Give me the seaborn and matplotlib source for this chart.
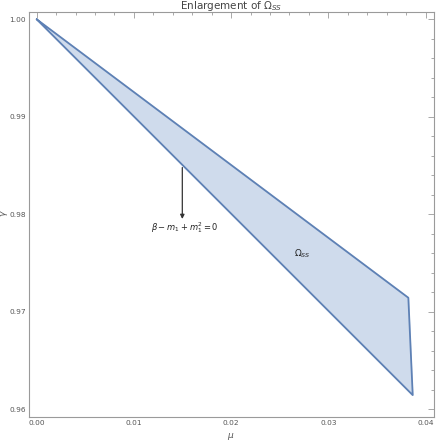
import matplotlib
matplotlib.use("Agg")
import matplotlib.pyplot as plt
import seaborn as sns
import numpy as np
import pandas as pd

# vertices of the Omega_SS region (mu, gamma)
mu_vertices = [0.0, 0.03823, 0.03868, 0.0]
gamma_vertices = [1.0, 0.97142, 0.96143, 1.0]

# arrow marking beta - m1 + m1^2 = 0
arrow_mu = 0.01498
arrow_start = 0.98507
arrow_end = 0.97922

region_label_pos = (0.02737, 0.97598)

x_ticks = [0.00, 0.01, 0.02, 0.03, 0.04]
y_ticks = [0.96, 0.97, 0.98, 0.99, 1.00]

sns.set_style("white")
plt.rcParams['font.family'] = ['DejaVu Sans']

edge_col = "#5E81B5"
fill_col = "#CFDBEC"
frame_col = "#9a9a9a"
label_col = "#555555"

fig = plt.figure(figsize=(4.36, 4.41), dpi=100)
ax = fig.add_axes([0.0665, 0.0537, 0.9296, 0.9198])

df = pd.DataFrame({"mu": mu_vertices, "gamma": gamma_vertices})
ax.fill(df["mu"], df["gamma"], color=fill_col, zorder=1)
sns.lineplot(data=df, x="mu", y="gamma", sort=False, estimator=None,
             color=edge_col, lw=1.3, ax=ax, zorder=2)

# arrow + label
ax.annotate("", xy=(arrow_mu, arrow_end), xytext=(arrow_mu, arrow_start),
            arrowprops=dict(arrowstyle="-|>", color="#333333", lw=0.9, mutation_scale=6))
ax.text(arrow_mu + 0.0003, arrow_end - 0.0006, r"$\beta - m_1 + m_1^2 = 0$",
        ha="center", va="center", fontsize=6, color="#222222")
ax.text(region_label_pos[0], region_label_pos[1], r"$\Omega_{SS}$",
        ha="center", va="center", fontsize=6.5, color="#222222")

ax.set_xlim(-0.00079, 0.0409)
ax.set_ylim(0.95915, 1.00078)
ax.set_xticks(x_ticks)
ax.set_yticks(y_ticks)
ax.set_xticklabels([f"{v:.2f}" for v in x_ticks])
ax.set_yticklabels([f"{v:.2f}" for v in y_ticks])
ax.set_xticks(np.arange(0, 0.0411, 0.002), minor=True)
ax.set_yticks(np.arange(0.96, 1.0001, 0.002), minor=True)
ax.tick_params(which="both", direction="in", top=True, right=True, colors=frame_col,
               labelcolor=label_col, labelsize=5.3, width=0.6, pad=2)
ax.tick_params(which="major", length=4)
ax.tick_params(which="minor", length=2)
for s in ax.spines.values():
    s.set_color(frame_col)
    s.set_linewidth(0.8)

ax.set_xlabel("")
ax.set_ylabel("")
fig.text(231 / 436, 1 - 437 / 441, r"$\mu$", fontsize=6.5, color=label_col,
         ha="center", va="center")
fig.text(4.5 / 436, 1 - 213 / 441, r"$\gamma$", fontsize=6.5, color=label_col,
         ha="center", va="center", rotation=90)
ax.set_title(r"Enlargement of $\Omega_{SS}$", fontsize=7.5, color="#444444", pad=2)

fig.savefig("out.png", dpi=100)
